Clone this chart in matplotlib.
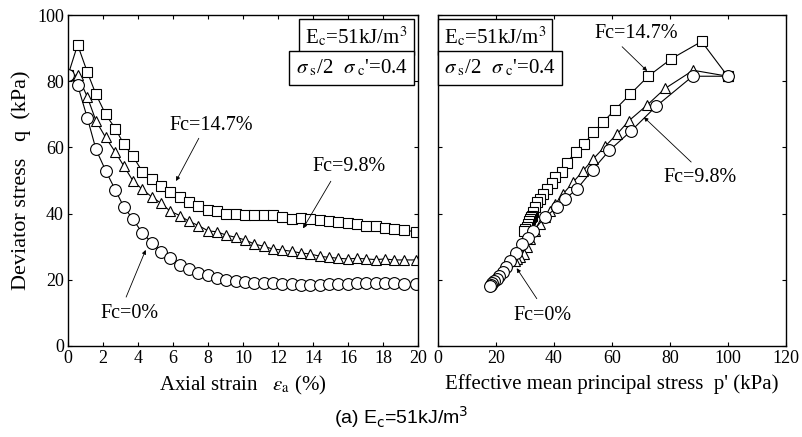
import numpy as np
import matplotlib
matplotlib.use("Agg")
import matplotlib.pyplot as plt

plt.rcParams['font.family'] = ['Liberation Serif', 'DejaVu Serif']
plt.rcParams['mathtext.fontset'] = 'stix'

# axial strain (%) - same sampling for all three tests
strain = [0, 0.55, 1.1, 1.6, 2.15, 2.7, 3.2, 3.7, 4.25, 4.8, 5.3, 5.85, 6.4, 6.9,
          7.45, 8.0, 8.5, 9.05, 9.6, 10.1, 10.65, 11.2, 11.7, 12.25, 12.8, 13.3,
          13.85, 14.4, 14.9, 15.45, 16.0, 16.5, 17.05, 17.6, 18.1, 18.65, 19.2, 19.9]

q_147 = [81.8, 91.0, 82.8, 76.0, 70.0, 65.7, 60.9, 57.4, 52.7, 50.5, 48.3, 46.5, 45.0,
         43.4, 42.4, 41.2, 40.7, 39.9, 39.9, 39.7, 39.5, 39.6, 39.6, 39.1, 38.4, 38.6,
         38.4, 38.1, 37.9, 37.6, 37.2, 36.9, 36.4, 36.2, 35.7, 35.4, 35.0, 34.5]
q_98 = [81.8, 81.8, 75.3, 68.0, 63.0, 58.6, 54.3, 50.0, 47.3, 45.0, 43.2, 40.7, 39.4,
        37.7, 36.4, 34.8, 34.5, 33.5, 32.8, 32.1, 30.8, 30.1, 29.3, 29.0, 28.6, 28.1,
        27.8, 27.1, 26.8, 26.5, 26.3, 26.5, 26.3, 26.1, 26.3, 26.0, 26.0, 26.0]
q_0 = [81.8, 78.8, 69.0, 59.4, 53.0, 47.2, 41.9, 38.4, 34.1, 31.2, 28.5, 26.5, 24.5,
       23.2, 22.2, 21.3, 20.5, 20.0, 19.6, 19.3, 19.1, 19.0, 18.9, 18.8, 18.6, 18.5,
       18.5, 18.5, 18.6, 18.7, 18.8, 18.9, 19.0, 19.0, 19.0, 18.9, 18.8, 18.7]

# stress paths (p', q)
p_147_r = [99.9, 90.9, 80.5, 72.5, 66.2, 61.0, 57.0, 53.6, 50.3, 47.5, 44.4, 42.6, 40.4,
           39.2, 37.5, 36.3, 35.2, 34.1, 33.5, 32.9, 32.3, 32.0, 31.7, 31.5, 31.1, 30.6,
           30.0, 29.5]
q_147_r = [81.5, 92.0, 86.8, 81.5, 76.0, 71.4, 67.7, 64.6, 60.9, 58.6, 55.4, 52.5, 51.0,
           49.2, 47.5, 46.0, 44.4, 43.4, 41.9, 40.4, 39.4, 38.9, 38.4, 37.9, 37.0, 35.9,
           35.3, 34.8]
p_98_r = [99.9, 88.0, 78.3, 72.0, 65.9, 61.8, 57.6, 53.6, 50.1, 46.6, 43.2, 40.4, 38.6,
          36.9, 35.2, 33.5, 31.7, 30.6, 29.5, 28.3, 27.4, 26.6]
q_98_r = [81.5, 83.3, 77.8, 72.7, 68.1, 64.1, 60.3, 56.6, 53.0, 49.5, 46.0, 42.9, 40.9,
          38.9, 36.9, 34.8, 32.3, 29.8, 27.8, 26.8, 26.2, 25.8]
p_0_r = [99.9, 87.8, 75.2, 66.5, 59.1, 53.3, 47.9, 43.8, 41.0, 36.9, 32.8, 31.0, 28.8,
         26.9, 24.8, 23.3, 22.3, 21.2, 20.2, 19.2, 18.7, 18.2, 18.0]
q_0_r = [81.5, 81.5, 72.4, 64.9, 59.1, 53.2, 47.4, 44.4, 41.9, 38.9, 34.8, 32.5, 30.8,
         28.0, 25.8, 24.0, 22.5, 21.2, 20.2, 19.5, 19.0, 18.5, 18.2]

fig = plt.figure(figsize=(8.02, 4.37), dpi=100)
ax1 = fig.add_axes([68/802, 91/437, 350/802, 331/437])
ax2 = fig.add_axes([438/802, 91/437, 348/802, 331/437])

mk = dict(color='black', lw=0.8, mfc='white', mec='black', mew=0.8)

ax1.plot(strain, q_147, marker='s', ms=7, **mk)
ax1.plot(strain, q_98, marker='^', ms=7, **mk)
ax1.plot(strain, q_0, marker='o', ms=8.5, **mk)

ax2.plot(p_147_r, q_147_r, marker='s', ms=7, **mk)
ax2.plot(p_98_r, q_98_r, marker='^', ms=7, **mk)
ax2.plot(p_0_r, q_0_r, marker='o', ms=8.5, **mk)

for ax in (ax1, ax2):
    ax.set_ylim(0, 100)
    ax.set_yticks(range(0, 101, 20))
    ax.tick_params(direction='in', length=3, width=0.8, labelsize=13,
                   top=True, right=True, pad=3)
    for s in ax.spines.values():
        s.set_linewidth(1.0)

ax1.set_xlim(0, 20)
ax1.set_xticks(range(0, 21, 2))
ax2.set_xlim(0, 120)
ax2.set_xticks(range(0, 121, 20))
ax2.set_yticklabels([])

ax1.set_ylabel("Deviator stress   q  (kPa)", fontsize=16, labelpad=4)
ax1.set_xlabel(r"Axial strain   $\varepsilon_{\rm a}$ (%)", fontsize=15, labelpad=5)
ax2.set_xlabel("Effective mean principal stress  p' (kPa)", fontsize=15, labelpad=5)

arr = dict(arrowstyle='-|>', color='black', lw=0.6, mutation_scale=6)
box = dict(boxstyle='square,pad=0.3', fc='white', ec='black', lw=1.0)
ec_txt = r"E$_{\rm c}$=51kJ/m$^3$"
sg_txt = r"$\sigma_{\ \rm s}$/2  $\sigma_{\ \rm c}$'=0.4"

ax1.text(8.2, 66.5, "Fc=14.7%", fontsize=14.5, ha='center', va='center')
ax1.annotate("", xy=(6.1, 49.1), xytext=(7.55, 63.5), arrowprops=arr)
ax1.text(16.05, 54.2, "Fc=9.8%", fontsize=14.5, ha='center', va='center')
ax1.annotate("", xy=(13.35, 34.8), xytext=(15.1, 50.5), arrowprops=arr)
ax1.text(3.5, 9.7, "Fc=0%", fontsize=14.5, ha='center', va='center')
ax1.annotate("", xy=(4.5, 29.8), xytext=(3.26, 14.0), arrowprops=arr)
ax1.text(19.4, 93.3, ec_txt, fontsize=15, ha='right', va='center', bbox=box)
ax1.text(19.4, 84.0, sg_txt, fontsize=15, ha='right', va='center', bbox=box)

ax2.text(68.4, 94.5, "Fc=14.7%", fontsize=14.5, ha='center', va='center')
ax2.annotate("", xy=(72.8, 82.5), xytext=(62.8, 91.0), arrowprops=arr)
ax2.text(90.4, 51.0, "Fc=9.8%", fontsize=14.5, ha='center', va='center')
ax2.annotate("", xy=(70.3, 69.7), xytext=(88.0, 55.0), arrowprops=arr)
ax2.text(36.2, 9.1, "Fc=0%", fontsize=14.5, ha='center', va='center')
ax2.annotate("", xy=(26.6, 24.2), xytext=(34.6, 13.6), arrowprops=arr)
ax2.text(2.0, 93.3, ec_txt, fontsize=15, ha='left', va='center', bbox=box)
ax2.text(2.0, 84.0, sg_txt, fontsize=15, ha='left', va='center', bbox=box)

fig.text(0.5, 20/437, r"(a) E$_{\rm c}$=51kJ/m$^3$", fontsize=14, ha='center',
         va='center', family=['Liberation Sans Narrow', 'Liberation Sans', 'DejaVu Sans'],
         math_fontfamily='dejavusans')

fig.savefig("out.png", dpi=100)
